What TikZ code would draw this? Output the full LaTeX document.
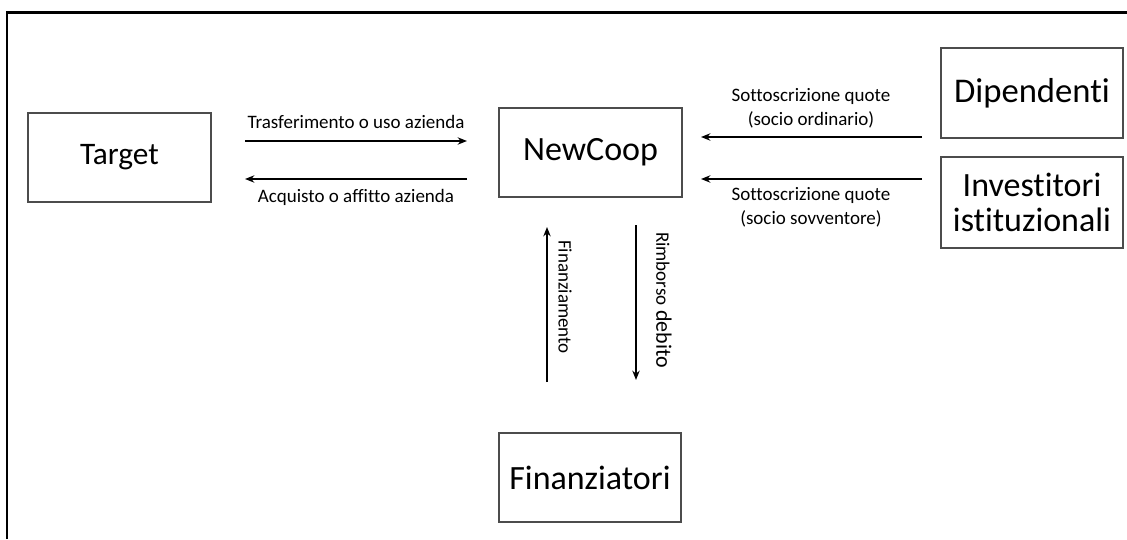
\documentclass[tikz,border=0pt]{standalone}
\usepackage{fontspec}
\setmainfont{Carlito}[Ligatures={NoCommon}]
\usetikzlibrary{arrows.meta}
\begin{document}
\begin{tikzpicture}[x=0.75pt,y=-0.75pt,
  box/.style={draw=black!70, line width=0.8pt, inner sep=0pt, align=center,
    font=\fontsize{25.5}{26.5}\selectfont},
  flow/.style={line width=1.5pt, -{Stealth[length=7pt,width=5.5pt]}},
  lbl/.style={font=\fontsize{14.25}{18}\selectfont, align=center, inner sep=0pt}]
\useasboundingbox (0,0) rectangle (1127,539);
\draw[line width=2pt] (7,539) -- (7,12.5) -- (1127,12.5);

\node[box, minimum width=137.25pt, minimum height=66.75pt, font=\fontsize{23.5}{26}\selectfont] (target) at (119.5,157.5) {Target};
\node[box, minimum width=137.25pt, minimum height=66.75pt] (newcoop) at (590.5,152.5) {NewCoop};
\node[box, minimum width=136.5pt, minimum height=67.5pt, font=\fontsize{26}{27}\selectfont] (dip) at (1032,93) {Dipendenti};
\node[box, minimum width=136.5pt, minimum height=68.25pt] (inv) at (1032,202.5) {Investitori\\istituzionali};
\node[box, minimum width=136.5pt, minimum height=66.75pt] (fin) at (590,477.5) {Finanziatori};

\coordinate (a1s) at (245,141); \coordinate (a1e) at (467,141);
\coordinate (a2s) at (467,179); \coordinate (a2e) at (245,179);
\coordinate (a3s) at (922,137); \coordinate (a3e) at (701,137);
\coordinate (a4s) at (922,179); \coordinate (a4e) at (701,179);
\coordinate (a5s) at (547,382); \coordinate (a5e) at (547,227);
\coordinate (a6s) at (636,225); \coordinate (a6e) at (636,380);

\draw[flow] (a1s) -- (a1e);
\draw[flow] (a2s) -- (a2e);
\draw[flow] (a3s) -- (a3e);
\draw[flow] (a4s) -- (a4e);
\draw[flow] (a5s) -- (a5e);
\draw[flow] (a6s) -- (a6e);

\node[lbl] (l1) at (356,122) {Trasferimento o uso azienda};
\node[lbl] (l2) at (356,197) {Acquisto o affitto azienda};
\node[lbl] (l3) at (811,108) {Sottoscrizione quote\\(socio ordinario)};
\node[lbl] (l4) at (811,207) {Sottoscrizione quote\\(socio sovventore)};
\node[lbl, rotate=-90] (l5) at (565,297) {Finanziamento};
\node[lbl, rotate=-90] (l6) at (664,300) {Rimborso {\fontsize{16.5}{18}\selectfont debito}};
\end{tikzpicture}
\end{document}
